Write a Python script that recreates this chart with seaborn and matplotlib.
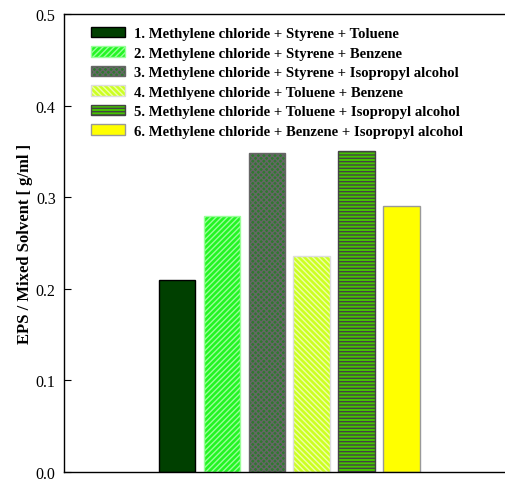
import matplotlib
matplotlib.use("Agg")
import matplotlib.pyplot as plt
import seaborn as sns
import pandas as pd
import numpy as np
from matplotlib.patches import Patch

# data
labels = ["1. Methylene chloride + Styrene + Toluene",
          "2. Methylene chloride + Styrene + Benzene",
          "3. Methylene chloride + Styrene + Isopropyl alcohol",
          "4. Methlyene chloride + Toluene + Benzene",
          "5. Methylene chloride + Toluene + Isopropyl alcohol",
          "6. Methylene chloride + Benzene + Isopropyl alcohol"]
values = [0.21, 0.28, 0.348, 0.236, 0.35, 0.29]

colors = ["#004000", "#22f522", "#2e7a2e", "#ccff22", "#44c400", "#ffff00"]
hatches = ["", "//////", "xxxxxx", "\\\\\\\\\\\\", "-----", ""]
hatch_colors = ["#000000", "#99ff99", "#666666", "#eeffaa", "#444444", "#999999"]
edge_colors = ["#000000", "#99ff99", "#666666", "#dddddd", "#444444", "#999999"]

df = pd.DataFrame({"mix": labels, "val": values})

sns.set_style("ticks")
plt.rcParams["font.family"] = ["Liberation Serif", "DejaVu Serif"]
plt.rcParams["hatch.linewidth"] = 1.0
plt.rcParams["text.color"] = "black"
plt.rcParams["axes.labelcolor"] = "black"
plt.rcParams["axes.edgecolor"] = "black"
plt.rcParams["ytick.color"] = "black"

fig = plt.figure(figsize=(5.05, 4.85), dpi=100)
ax = fig.add_axes([64 / 505, 1 - 473 / 485, 1 - 64 / 505, (473 - 15) / 485])

sns.barplot(data=df, x="mix", y="val", hue="mix", palette=colors,
            width=0.82, legend=False, ax=ax, saturation=1)

for i, p in enumerate(ax.patches):
    p.set_hatch(hatches[i])
    p.set_edgecolor(edge_colors[i])
    p.set_linewidth(1.0)
    p._hatch_color = matplotlib.colors.to_rgba(hatch_colors[i])

ax.set_xlim(-2.51, 7.29)
ax.set_ylim(0, 0.5)
ax.set_yticks(np.arange(0, 0.51, 0.1))
ax.set_yticklabels([f"{t:.1f}" for t in np.arange(0, 0.51, 0.1)], fontsize=11.5)
ax.set_xticks([])
ax.set_xlabel("")
ax.set_ylabel("EPS / Mixed Solvent [ g/ml ]", fontsize=12, fontweight="bold", labelpad=2)
ax.tick_params(axis="y", direction="in", length=5, pad=6)
ax.spines["right"].set_visible(False)
for s in ["left", "bottom", "top"]:
    ax.spines[s].set_linewidth(1.0)

handles = []
for i in range(len(labels)):
    h = Patch(facecolor=colors[i], edgecolor=edge_colors[i], hatch=hatches[i], linewidth=1.0)
    h._hatch_color = matplotlib.colors.to_rgba(hatch_colors[i])
    handles.append(h)
ax.legend(handles, labels, loc="upper left", bbox_to_anchor=(0.048, 0.985), frameon=False,
          prop={"weight": "bold", "size": 10.6}, handlelength=2.3, handleheight=0.7,
          labelspacing=0.42, handletextpad=0.6, borderaxespad=0)

fig.savefig("out.png", dpi=100)
